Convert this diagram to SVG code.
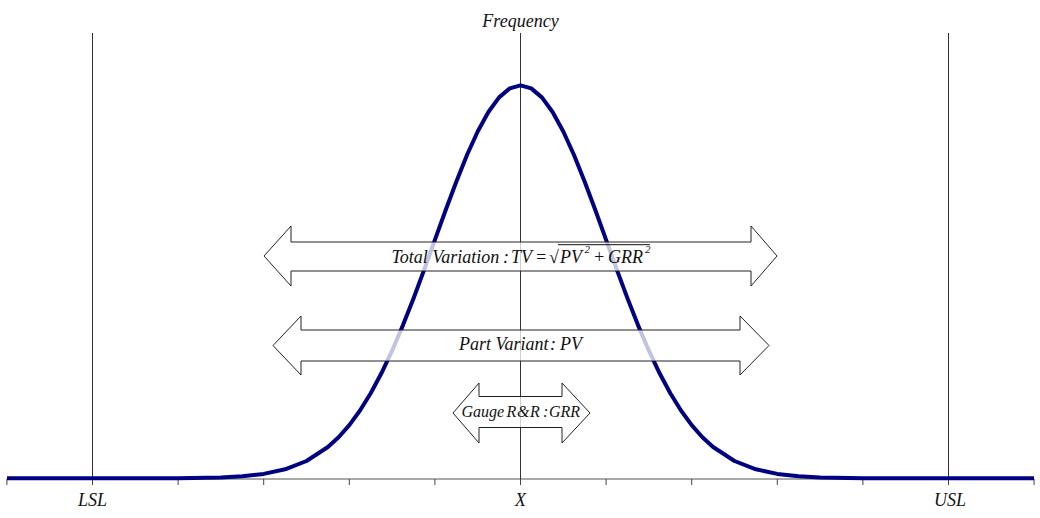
<svg xmlns="http://www.w3.org/2000/svg" width="1040" height="518" viewBox="0 0 1040 518">
<style>
.lbl{font-family:"Liberation Serif","Times New Roman",serif;font-style:italic;font-size:18px;fill:#111}
.sup{font-size:11px}
.vline{stroke:#333;stroke-width:1;fill:none}
.tick{stroke:#444;stroke-width:1}
.axis{stroke:#555;stroke-width:1.2}
.curve{stroke:#000080;stroke-width:4;fill:none;stroke-linejoin:round;stroke-linecap:butt}
.arrow{fill:#fff;fill-opacity:0.76;stroke:#222;stroke-width:1}
</style>
<rect width="1040" height="518" fill="#fff"/>
<g id="axes">
  <line class="axis" x1="6.9" y1="479" x2="1034.1" y2="479"/>
  <g class="tick">
    <line x1="6.9" y1="479" x2="6.9" y2="485"/>
    <line x1="92.5" y1="479" x2="92.5" y2="485"/>
    <line x1="178.1" y1="479" x2="178.1" y2="485"/>
    <line x1="263.7" y1="479" x2="263.7" y2="485"/>
    <line x1="349.3" y1="479" x2="349.3" y2="485"/>
    <line x1="434.9" y1="479" x2="434.9" y2="485"/>
    <line x1="520.5" y1="479" x2="520.5" y2="485"/>
    <line x1="606.1" y1="479" x2="606.1" y2="485"/>
    <line x1="691.7" y1="479" x2="691.7" y2="485"/>
    <line x1="777.3" y1="479" x2="777.3" y2="485"/>
    <line x1="862.9" y1="479" x2="862.9" y2="485"/>
    <line x1="948.5" y1="479" x2="948.5" y2="485"/>
    <line x1="1034.1" y1="479" x2="1034.1" y2="485"/>
  </g>
  <line id="lsl-line" class="vline" x1="92.5" y1="33" x2="92.5" y2="479"/>
  <line id="center-line" class="vline" x1="520.5" y1="33" x2="520.5" y2="479"/>
  <line id="usl-line" class="vline" x1="948.5" y1="33" x2="948.5" y2="479"/>
</g>
<g id="distribution">
  <path class="curve" d="M7,478.3 L178.1,478.2 L220.9,477.4 L242.3,476.3 L263.7,473.9 L285.1,469.3 L306.5,461.0 L327.9,447.0 L338.6,437.2 L349.3,425.1 L360.0,410.5 L370.7,393.3 L381.4,373.3 L392.1,350.7 L402.8,325.6 L413.5,298.4 L424.2,269.6 L434.9,239.9 L445.6,210.3 L456.3,181.7 L467.0,155.0 L477.7,131.5 L488.4,112.0 L499.1,97.4 L509.8,88.4 L520.5,85.3 L531.2,88.4 L541.9,97.4 L552.6,112.0 L563.3,131.5 L574.0,155.0 L584.7,181.7 L595.4,210.3 L606.1,239.9 L616.8,269.6 L627.5,298.4 L638.2,325.6 L648.9,350.7 L659.6,373.3 L670.3,393.3 L681.0,410.5 L691.7,425.1 L702.4,437.2 L713.1,447.0 L734.5,461.0 L755.9,469.3 L777.3,473.9 L798.7,476.3 L820.1,477.4 L862.9,478.2 L1034,478.3"/>
</g>
<g id="total-variation">
  <path class="arrow" d="M264,256 L291,226 L291,242 L751,242 L751,226 L777,256 L751,286 L751,271 L291,271 L291,286 Z"/>
  <text class="lbl" y="263.3"><tspan x="391.5">Total Variation</tspan><tspan x="503">:</tspan><tspan x="511">TV</tspan><tspan x="535">=</tspan><tspan x="549">√</tspan><tspan x="560">PV</tspan><tspan x="584.5" y="253" class="sup">2</tspan><tspan x="593" y="263.3">+</tspan><tspan x="608">GRR</tspan><tspan x="645" y="253" class="sup">2</tspan></text>
  <line x1="558" y1="244.7" x2="650" y2="244.7" stroke="#111" stroke-width="1"/>
</g>
<g id="part-variant">
  <path class="arrow" d="M273,345.5 L301,316 L301,330 L740,330 L740,316 L769,345.5 L740,375 L740,361 L301,361 L301,375 Z"/>
  <text class="lbl" y="350"><tspan x="459">Part Variant</tspan><tspan x="550">:</tspan><tspan x="560">PV</tspan></text>
</g>
<g id="gauge-rr">
  <path class="arrow" d="M453,413 L479,383 L479,396.5 L562,396.5 L562,383 L590,413 L562,443 L562,427.5 L479,427.5 L479,443 Z"/>
  <text class="lbl" y="417" style="font-size:16px"><tspan x="461.5">Gauge</tspan><tspan x="506.5">R</tspan><tspan x="517">&amp;</tspan><tspan x="530">R</tspan><tspan x="543">:</tspan><tspan x="549">GRR</tspan></text>
</g>
<g id="labels">
  <text class="lbl" x="520.5" y="27" text-anchor="middle">Frequency</text>
  <text class="lbl" x="92.5" y="505.5" text-anchor="middle">LSL</text>
  <text class="lbl" x="520.5" y="505.5" text-anchor="middle">X</text>
  <text class="lbl" x="950" y="505.5" text-anchor="middle">USL</text>
</g>
</svg>
